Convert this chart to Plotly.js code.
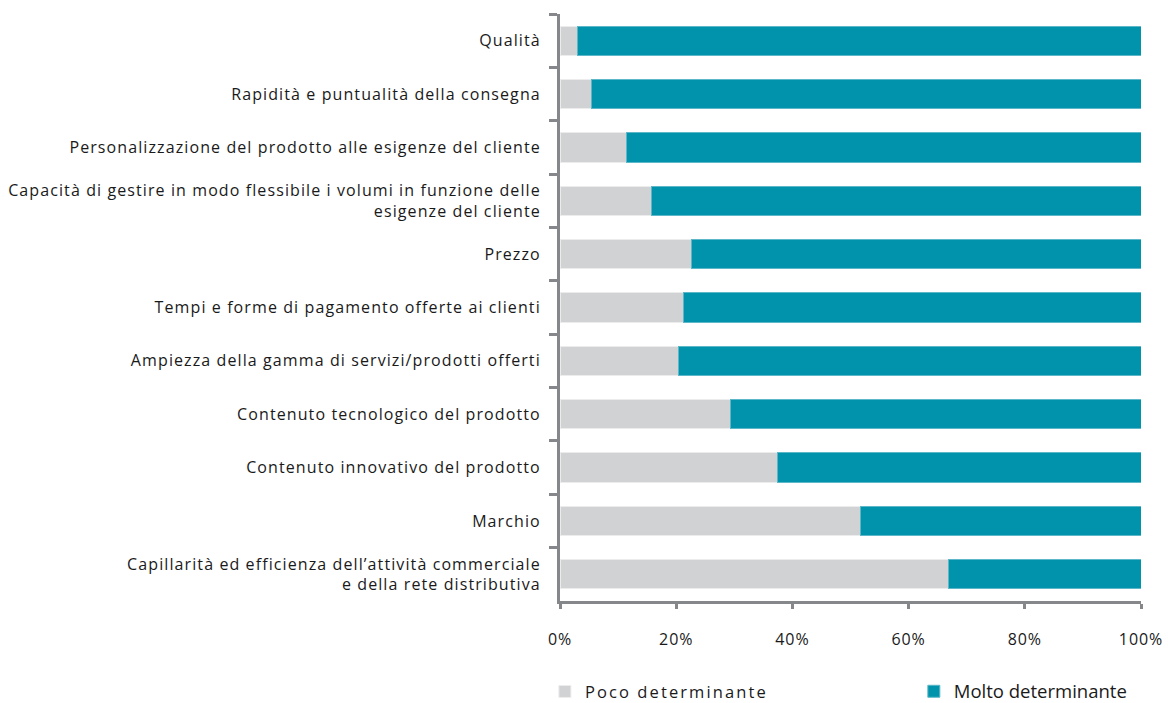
<!DOCTYPE html>
<html>
<head>
<meta charset="utf-8">
<script src="https://cdn.plot.ly/plotly-3.0.1.min.js"></script>
<style>
html,body{margin:0;padding:0;background:#fff;}
#chart{width:1168px;height:703px;}
#chart .ytick text{letter-spacing:1.1px;}
#chart .xtick text{letter-spacing:0.9px;}
#chart text.legendtext{letter-spacing:2.1px !important;}
</style>
</head>
<body>
<div id="chart"></div>
<script>
const categories = [
  "Qualità",
  "Rapidità e puntualità della consegna",
  "Personalizzazione del prodotto alle esigenze del cliente",
  "Capacità di gestire in modo flessibile i volumi in funzione delle<br>esigenze del cliente",
  "Prezzo",
  "Tempi e forme di pagamento offerte ai clienti",
  "Ampiezza della gamma di servizi/prodotti offerti",
  "Contenuto tecnologico del prodotto",
  "Contenuto innovativo del prodotto",
  "Marchio",
  "Capillarità ed efficienza dell’attività commerciale<br>e della rete distributiva"
];
const pocoDeterminante  = [3.0, 5.5, 11.5, 15.8, 22.7, 21.3, 20.4, 29.4, 37.5, 51.8, 66.9];
const moltoDeterminante = [97.0, 94.5, 88.5, 84.2, 77.3, 78.7, 79.6, 70.6, 62.5, 48.2, 33.1];
const seriesNames = ["Poco determinante", "Molto determinante"];
const xTickVals = [0, 20, 40, 60, 80, 100];
const xTickText = ["0%", "20%", "40%", "60%", "80%", "100%"];

const traces = [
  {
    type: "bar", orientation: "h", name: seriesNames[0], legend: "legend",
    y: categories, x: pocoDeterminante,
    marker: {color: "#d1d2d4", line: {color: "#ececec", width: 1}},
    hoverinfo: "x+y"
  },
  {
    type: "bar", orientation: "h", name: seriesNames[1], legend: "legend2",
    y: categories, x: moltoDeterminante,
    marker: {color: "#0093ab", line: {color: "#5cb8c8", width: 1}},
    hoverinfo: "x+y"
  }
];

const legendBase = {
  orientation: "h", xanchor: "left", yref: "container", y: 0.016, yanchor: "middle",
  font: {size: 16.5, color: "#1a1a1a", family: "Open Sans, sans-serif"},
  entrywidth: 190, entrywidthmode: "pixels",
  bgcolor: "rgba(0,0,0,0)", borderwidth: 0
};

const layout = {
  width: 1168, height: 703,
  margin: {l: 560, r: 27, t: 14, b: 102, pad: 0},
  paper_bgcolor: "#ffffff", plot_bgcolor: "#ffffff",
  barmode: "stack", bargap: 0.45,
  font: {family: "Open Sans, sans-serif", size: 16, color: "#1a1a1a"},
  showlegend: true,
  legend: Object.assign({}, legendBase, {x: -0.026}),
  legend2: Object.assign({}, legendBase, {x: 0.609,
    font: {size: 18.5, color: "#1a1a1a", family: "Open Sans, sans-serif"}}),
  xaxis: {
    range: [0, 100], tickmode: "array", tickvals: xTickVals, ticktext: xTickText,
    showgrid: false, zeroline: false,
    showline: true, linecolor: "#86878a", linewidth: 3,
    ticks: "outside", ticklen: 5, tickwidth: 3, tickcolor: "#86878a",
    ticklabelstandoff: 17,
    tickfont: {size: 16, color: "#1a1a1a"},
    automargin: false,
    fixedrange: true
  },
  yaxis: {
    type: "category", autorange: "reversed",
    showgrid: false, zeroline: false,
    showline: true, linecolor: "#86878a", linewidth: 3,
    ticks: "outside", ticklen: 8, tickwidth: 3, tickcolor: "#86878a",
    tickson: "boundaries",
    ticklabelstandoff: 13,
    tickfont: {size: 16, color: "#1a1a1a"},
    automargin: false,
    fixedrange: true
  }
};

Plotly.newPlot("chart", traces, layout, {displayModeBar: false, responsive: false});
</script>
</body>
</html>
